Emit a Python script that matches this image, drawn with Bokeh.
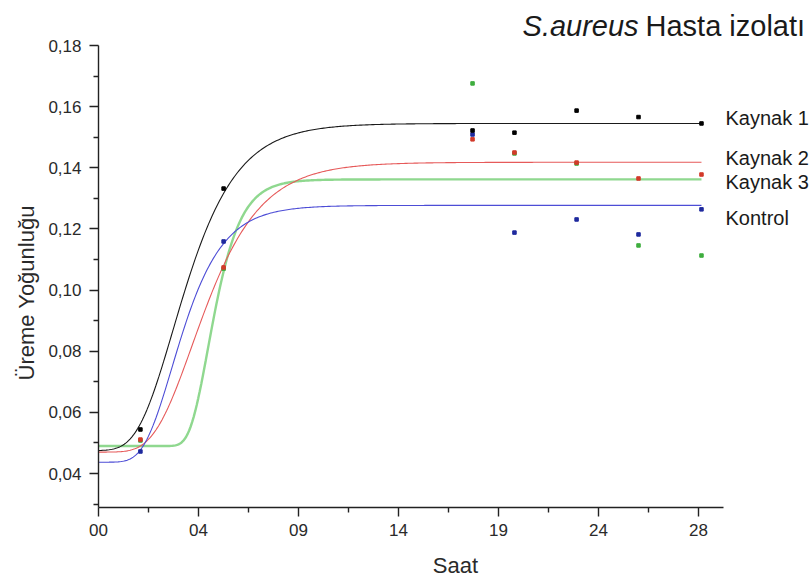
import numpy as np
from bokeh.plotting import figure
from bokeh.models import Range1d, FixedTicker, CustomJSTickFormatter, Label, Title
from bokeh.embed import file_html
from bokeh.resources import INLINE

# ---- data ----
hours = [1.97, 5.88, 17.58, 19.55, 22.47, 25.38, 28.34]
series_names = ["Kaynak 1", "Kaynak 2", "Kaynak 3", "Kontrol"]
kaynak1 = [0.0544, 0.1332, 0.1522, 0.1515, 0.1587, 0.1566, 0.1545]
kaynak2 = [0.0511, 0.1074, 0.1493, 0.1450, 0.1417, 0.1365, 0.1378]
kaynak3 = [0.0508, 0.1070, 0.1676, 0.1447, 0.1414, 0.1146, 0.1113]
kontrol = [0.0472, 0.1159, 0.1509, 0.1188, 0.1231, 0.1182, 0.1264]

# growth-curve (Gompertz) parameters estimated from the drawn fits
fit_lower = [0.0475, 0.0470, 0.0490, 0.0437]
fit_upper = [0.1545, 0.1418, 0.1362, 0.1277]
fit_xc = [3.50, 4.40, 5.15, 3.45]
fit_k = [1.67, 1.80, 0.85, 1.33]

x_tick_labels = ["00", "04", "09", "14", "19", "24", "28"]
y_tick_values = [0.04, 0.06, 0.08, 0.10, 0.12, 0.14, 0.16, 0.18]
label_y = [0.1564, 0.1433, 0.1355, 0.1235]

# ---- styling ----
FONT = "Liberation Sans"
line_colors = ["#1a1a1a", "#e65a5a", "#8fd88f", "#4d4dd6"]
line_widths = [1.1, 1.1, 2.4, 1.1]
dot_colors = ["#000000", "#d23a2a", "#3fae3f", "#1f2a9e"]
TICK_STEP = 4.7

p = figure(width=812, height=581, output_backend="svg", toolbar_location=None,
           x_range=Range1d(0, 33.558), y_range=Range1d(0.02888, 0.19472),
           min_border_left=98, min_border_right=0, min_border_top=0, min_border_bottom=74)
p.grid.visible = False
p.outline_line_color = None
p.background_fill_color = "white"
p.border_fill_color = "white"

xs = np.linspace(0, hours[-1], 400)
all_y = [kaynak1, kaynak2, kaynak3, kontrol]
order = [2, 1, 3, 0]
for i in order:
    ys = fit_lower[i] + (fit_upper[i] - fit_lower[i]) * np.exp(-np.exp(-(xs - fit_xc[i]) / fit_k[i]))
    p.line(xs, ys, line_color=line_colors[i], line_width=line_widths[i])
for i in order:
    p.scatter(hours, all_y[i], marker="square", size=3.5, fill_color=dot_colors[i],
              line_color=dot_colors[i])

# axes
xa = p.xaxis[0]
xa.bounds = (0, 6.25 * TICK_STEP)
xa.ticker = FixedTicker(ticks=[i * TICK_STEP for i in range(7)],
                        minor_ticks=[(i + 0.5) * TICK_STEP for i in range(6)])
xa.formatter = CustomJSTickFormatter(args=dict(labels=x_tick_labels, step=TICK_STEP),
                                     code="return labels[Math.round(tick/step)];")
ya = p.yaxis[0]
ya.bounds = (0.02888, 0.18)
ya.ticker = FixedTicker(ticks=y_tick_values,
                        minor_ticks=[0.03 + 0.02 * i for i in range(8)])
ya.formatter = CustomJSTickFormatter(code="return tick.toFixed(2).replace('.', ',');")

for ax in (xa, ya):
    ax.axis_line_width = 1.4
    ax.axis_line_color = "#222222"
    ax.major_tick_line_color = "#222222"
    ax.minor_tick_line_color = "#222222"
    ax.major_tick_line_width = 1.4
    ax.minor_tick_line_width = 1.4
    ax.major_tick_out = 9
    ax.major_tick_in = 0
    ax.minor_tick_out = 5
    ax.minor_tick_in = 0
    ax.major_label_text_font = FONT
    ax.major_label_text_font_size = "17px"
    ax.major_label_text_color = "#2a2a2a"
    ax.axis_label_text_font = FONT
    ax.axis_label_text_font_size = "22px"
    ax.axis_label_text_font_style = "normal"
    ax.axis_label_text_color = "#2a2a2a"

xa.axis_label = "Saat"
xa.major_label_standoff = 7
xa.axis_label_standoff = 14
ya.major_label_standoff = 8

# y-axis title, anchored from the bottom of the left panel
p.add_layout(Title(text="Üreme Yoğunluğu", align="left", offset=127, text_font=FONT,
                   text_font_size="22px", text_font_style="normal", text_color="#2a2a2a",
                   standoff=14), "left")

# series labels
for name, yv in zip(series_names, label_y):
    p.add_layout(Label(x=29.47, y=yv, text=name, text_font=FONT, text_font_size="20px",
                       text_baseline="middle", text_color="#1a1a1a"))

# title
p.add_layout(Label(x=19.93, y=0.18654, text="S.aureus", text_font=FONT, text_font_size="29px",
                   text_font_style="italic", text_baseline="alphabetic", text_color="#1a1a1a"))
p.add_layout(Label(x=25.71, y=0.18654, text="Hasta izolatı", text_font=FONT, text_font_size="29px",
                   text_baseline="alphabetic", text_color="#1a1a1a"))

open("out.html", "w").write(file_html(p, INLINE))
